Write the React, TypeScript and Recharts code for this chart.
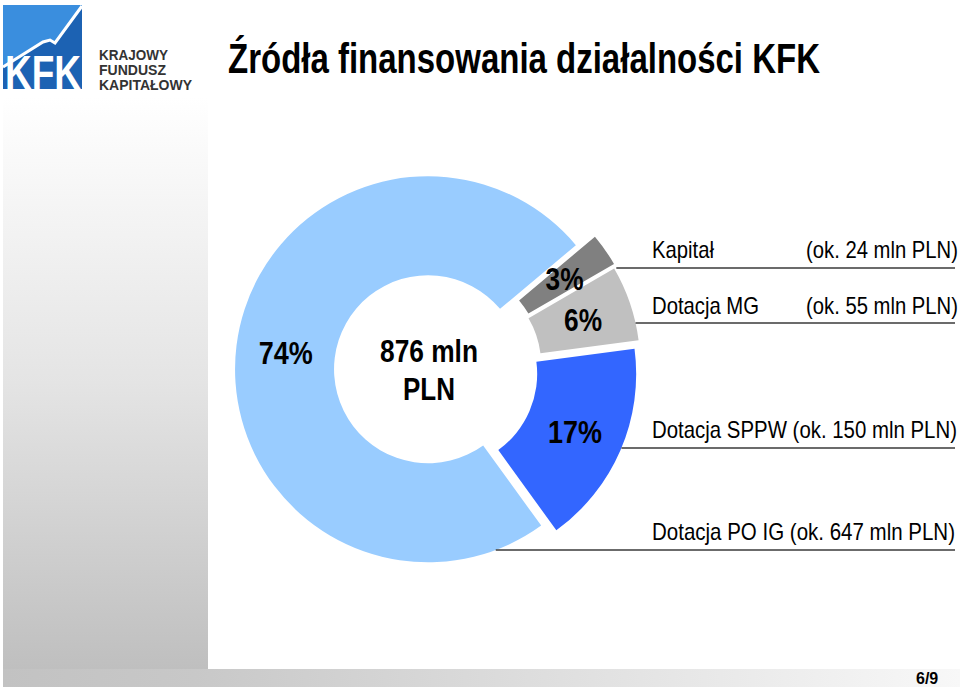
import React from "react";
import { PieChart, Pie, Cell } from "recharts";

// data (mln PLN)
const categories = ["Kapitał", "Dotacja MG", "Dotacja SPPW", "Dotacja PO IG"];
const amounts = [24, 55, 150, 647];
const colors = ["#808080", "#c0c0c0", "#3366ff", "#99ccff"];

const data = categories.map((name, i) => ({ name, value: amounts[i] }));
const total = amounts.reduce((a, b) => a + b, 0);

const W = 960;
const H = 687;
const CX = 434;
const CY = 370;
const R_IN = 94;
const R_OUT = 193;
const START = 40;
const explode = [16, 14, 10, 6];
const RAD = Math.PI / 180;

const NARROW = "'Liberation Sans Narrow', 'Arial Narrow', 'Liberation Sans', Arial, sans-serif";

// caption rows on the right (layout only)
const rows = [
  { base: 258, line: 268, nameW: 62, noteX: 806, noteW: 152 },
  { base: 314, line: 323, nameW: 107, noteX: 806, noteW: 152 },
  { base: 438, line: 448, fullW: 305 },
  { base: 540, line: 550, fullW: 303 },
];

// mid angle of every slice, used to push it outwards
const mids: number[] = [];
{
  let acc = 0;
  amounts.forEach((v) => {
    mids.push(START - ((acc + v / 2) / total) * 360);
    acc += v;
  });
}

function makeLabel(own: number) {
  return (p: any) => {
    if (p.index !== own) return null;
    const cx = Number(p.cx);
    const cy = Number(p.cy);
    const rm = (R_IN + R_OUT) / 2;
    const lx = cx + rm * Math.cos(-p.midAngle * RAD);
    const ly = cy + rm * Math.sin(-p.midAngle * RAD);
    const row = rows[own];
    const dy = row.line - cy;
    const x0 = cx + Math.sqrt(Math.max(0, R_OUT * R_OUT - dy * dy));
    const pct = Math.round(p.percent * 100) + "%";
    const note = `(ok. ${amounts[own]} mln PLN)`;
    return (
      <g>
        <text
          x={lx}
          y={ly + 12}
          textAnchor="middle"
          fontFamily={NARROW}
          fontWeight="bold"
          fontSize={32}
          fill="#000"
          textLength={pct.length * 16 + 6}
          lengthAdjust="spacingAndGlyphs"
        >
          {pct}
        </text>
        <line x1={x0} y1={row.line} x2={955} y2={row.line} stroke="#3a3a3a" strokeWidth={1.6} />
        {"fullW" in row ? (
          <text
            x={652}
            y={row.base}
            fontFamily={NARROW}
            fontSize={24}
            fill="#000"
            textLength={row.fullW}
            lengthAdjust="spacingAndGlyphs"
          >
            {`${categories[own]} ${note}`}
          </text>
        ) : (
          <>
            <text
              x={652}
              y={row.base}
              fontFamily={NARROW}
              fontSize={24}
              fill="#000"
              textLength={row.nameW}
              lengthAdjust="spacingAndGlyphs"
            >
              {categories[own]}
            </text>
            <text
              x={row.noteX}
              y={row.base}
              fontFamily={NARROW}
              fontSize={24}
              fill="#000"
              textLength={row.noteW}
              lengthAdjust="spacingAndGlyphs"
            >
              {note}
            </text>
          </>
        )}
      </g>
    );
  };
}

function Logo() {
  return (
    <g>
      <rect x={3} y={5} width={79} height={84} fill="#1c62b3" />
      <polygon points="3,5 82,5 82,6 55,43 50,40 43,42 3,66" fill="#3a8ede" />
      <polyline
        points="3,67 43,42 50,40 55,43 82,6"
        fill="none"
        stroke="#fff"
        strokeWidth={3}
      />
      <text
        x={5}
        y={89}
        fontFamily="'Liberation Sans', Arial, sans-serif"
        fontWeight="bold"
        fontSize={48}
        fill="#fff"
        textLength={76}
        lengthAdjust="spacingAndGlyphs"
      >
        KFK
      </text>
      {[
        ["KRAJOWY", 60, 69],
        ["FUNDUSZ", 75, 67],
        ["KAPITAŁOWY", 90, 93],
      ].map(([t, y, w]) => (
        <text
          key={t as string}
          x={99}
          y={y as number}
          fontFamily="'Liberation Sans', Arial, sans-serif"
          fontWeight="bold"
          fontSize={14}
          fill="#333"
          textLength={w as number}
          lengthAdjust="spacingAndGlyphs"
        >
          {t}
        </text>
      ))}
    </g>
  );
}

export default function App() {
  return (
    <div style={{ position: "absolute", left: 0, top: 0, width: W, height: H, background: "#fff", overflow: "hidden" }}>
      <div
        style={{
          position: "absolute",
          left: 3,
          top: 97,
          width: 205,
          height: 572,
          background: "linear-gradient(to bottom, #ffffff 0%, #e4e4e4 50%, #bfbfbf 100%)",
        }}
      />
      <div
        style={{
          position: "absolute",
          left: 3,
          top: 669,
          width: 957,
          height: 18,
          background: "linear-gradient(to right, #c2c2c2 0%, #c8c8c8 20%, #f8f8f8 100%)",
        }}
      />
      <svg width={W} height={H} style={{ position: "absolute", left: 0, top: 0 }}>
        <Logo />
        <text
          x={228}
          y={73}
          fontFamily={NARROW}
          fontWeight="bold"
          fontSize={42}
          fill="#000"
          textLength={592}
          lengthAdjust="spacingAndGlyphs"
        >
          Źródła finansowania działalności KFK
        </text>
        <text
          x={429}
          y={362}
          textAnchor="middle"
          fontFamily={NARROW}
          fontWeight="bold"
          fontSize={31}
          fill="#000"
          textLength={98}
          lengthAdjust="spacingAndGlyphs"
        >
          {`${total} mln`}
        </text>
        <text
          x={429}
          y={400}
          textAnchor="middle"
          fontFamily={NARROW}
          fontWeight="bold"
          fontSize={31}
          fill="#000"
          textLength={52}
          lengthAdjust="spacingAndGlyphs"
        >
          PLN
        </text>
        <text x={916} y={684} fontFamily={NARROW} fontWeight="bold" fontSize={16} fill="#000">
          6/9
        </text>
      </svg>
      <div style={{ position: "absolute", left: 0, top: 0 }}>
        <PieChart width={W} height={H} margin={{ top: 0, right: 0, bottom: 0, left: 0 }}>
          {categories.map((_, own) => (
            <Pie
              key={own}
              data={data}
              dataKey="value"
              nameKey="name"
              cx={CX + explode[own] * Math.cos(-mids[own] * RAD)}
              cy={CY + explode[own] * Math.sin(-mids[own] * RAD)}
              innerRadius={R_IN}
              outerRadius={R_OUT}
              startAngle={START}
              endAngle={START - 360}
              stroke="none"
              labelLine={false}
              label={makeLabel(own)}
              isAnimationActive={false}
            >
              {data.map((d, i) => (
                <Cell key={d.name} fill={i === own ? colors[i] : "none"} stroke="none" />
              ))}
            </Pie>
          ))}
        </PieChart>
      </div>
    </div>
  );
}
